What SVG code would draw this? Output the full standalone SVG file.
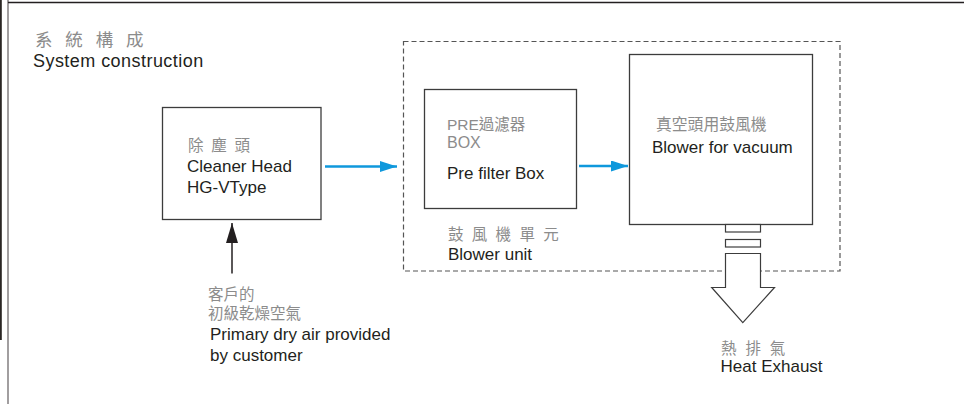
<svg xmlns="http://www.w3.org/2000/svg" width="964" height="405" viewBox="0 0 964 405">
<style>
text{font-family:"Liberation Sans","Noto Sans CJK TC",Arial,sans-serif}
.g{fill:#8c8c8c;font-size:15.5px}
.k{fill:#231f20;font-size:17px}
.box{fill:#fff;stroke:#3c3c3c;stroke-width:1.3}
.blue{stroke:#0f98dc;stroke-width:2.6;fill:none}
</style>
<defs>
<marker id="bh" viewBox="0 0 10 10" refX="10" refY="5" markerWidth="17" markerHeight="11" markerUnits="userSpaceOnUse" orient="auto" preserveAspectRatio="none">
<path d="M0,0 L10,5 L0,10 z" fill="#0f98dc"/>
</marker>
<marker id="kh" viewBox="0 0 10 10" refX="10" refY="5" markerWidth="20" markerHeight="12" markerUnits="userSpaceOnUse" orient="auto" preserveAspectRatio="none">
<path d="M0,0 L10,5 L0,10 z" fill="#231f20"/>
</marker>
</defs>
<rect width="964" height="405" fill="#fff"/>
<g id="frame">
<rect x="0" y="0" width="1.8" height="340" fill="#2a2624"/>
<line x1="8" y1="0" x2="8" y2="404" stroke="#8a8688" stroke-width="1.6"/>
<line x1="8" y1="2.5" x2="964" y2="2.5" stroke="#231f20" stroke-width="1.5"/>
</g>
<g id="title">
<text class="g" x="35" y="46" style="font-size:17.5px;letter-spacing:4px">系 統 構 成</text>
<text class="k" x="33" y="67" style="font-size:18px;letter-spacing:0.45px">System construction</text>
</g>
<g id="blower-unit">
<rect x="403.5" y="41.5" width="436.5" height="229.5" fill="none" stroke="#555" stroke-width="1.2" stroke-dasharray="5 3"/>
<text class="g" x="448" y="240" style="letter-spacing:2px">鼓 風 機 單 元</text>
<text class="k" x="448" y="260">Blower unit</text>
</g>
<g id="connectors">
<line class="blue" x1="325" y1="166.5" x2="397" y2="166.5" marker-end="url(#bh)"/>
<line class="blue" x1="579" y1="166" x2="628" y2="166" marker-end="url(#bh)"/>
<line x1="232" y1="273.5" x2="232" y2="223" stroke="#231f20" stroke-width="1.5" marker-end="url(#kh)"/>
</g>
<g id="cleaner-head">
<rect class="box" x="162.5" y="107.5" width="158.5" height="112"/>
<text class="g" x="188" y="151" style="letter-spacing:1.7px">除 塵 頭</text>
<text class="k" x="187" y="172">Cleaner Head</text>
<text class="k" x="187" y="193">HG-VType</text>
</g>
<g id="pre-filter">
<rect class="box" x="424.5" y="89.5" width="152" height="119"/>
<text class="g" x="447" y="130">PRE過濾器</text>
<text class="g" x="447" y="148" style="font-size:16px">BOX</text>
<text class="k" x="447" y="179">Pre filter Box</text>
</g>
<g id="blower">
<rect class="box" x="629.5" y="54.5" width="183" height="170"/>
<text class="g" x="656" y="130" style="font-size:15.8px">真空頭用鼓風機</text>
<text class="k" x="652" y="153">Blower for vacuum</text>
</g>
<g id="exhaust">
<rect x="725.5" y="224.5" width="35" height="7.5" fill="#fff" stroke="#3c3c3c" stroke-width="1.2"/>
<rect x="725.5" y="239.5" width="35" height="7.5" fill="#fff" stroke="#3c3c3c" stroke-width="1.2"/>
<polygon points="725.5,253.5 760.5,253.5 760.5,287.5 774.5,287.5 742.8,322.7 711.7,287.5 725.5,287.5" fill="#fff" stroke="#3c3c3c" stroke-width="1.2" stroke-linejoin="miter"/>
<text class="g" x="721" y="354" style="letter-spacing:2.3px">熱 排 氣</text>
<text class="k" x="720.5" y="371.5">Heat Exhaust</text>
</g>
<g id="dry-air">
<text class="g" x="208" y="300">客戶的</text>
<text class="g" x="208" y="319">初級乾燥空氣</text>
<text class="k" x="210" y="340">Primary dry air provided</text>
<text class="k" x="210" y="361">by customer</text>
</g>
</svg>
